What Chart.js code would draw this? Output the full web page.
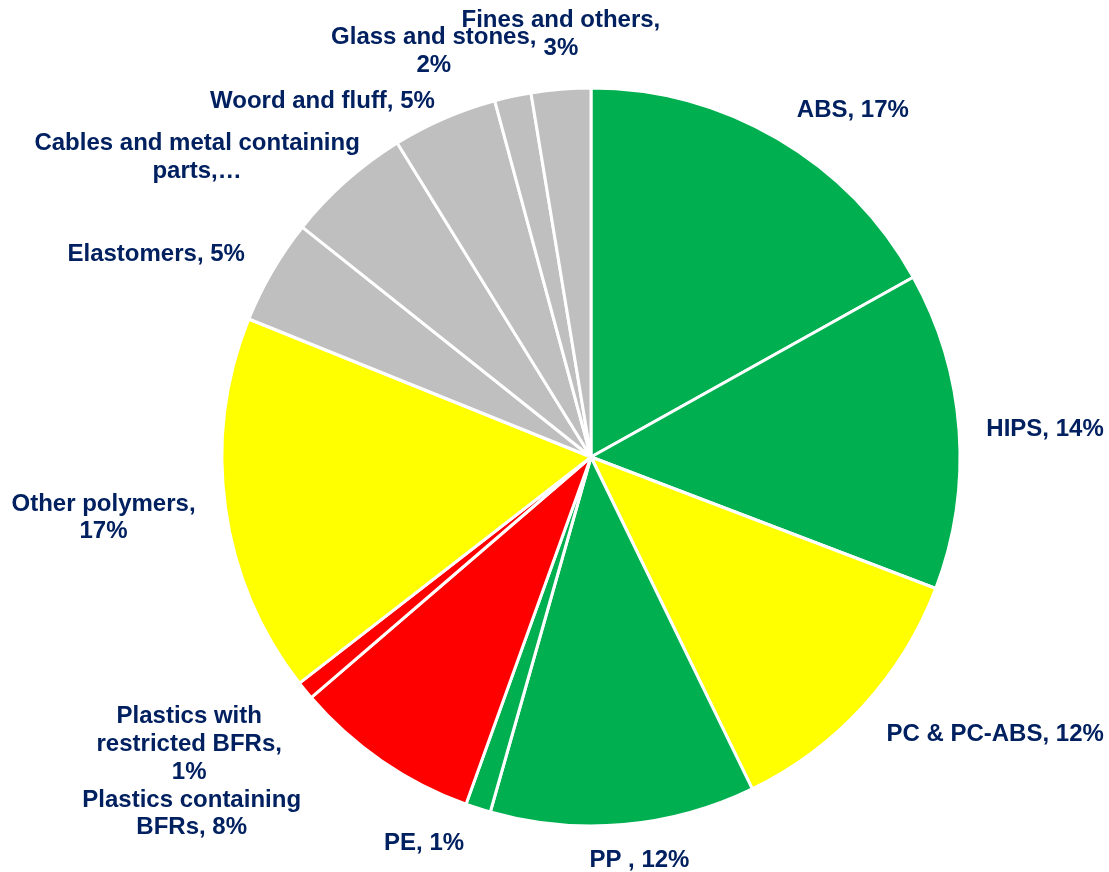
<!DOCTYPE html>
<html>
<head>
<meta charset="utf-8">
<script src="https://cdn.jsdelivr.net/npm/chart.js@4/dist/chart.umd.min.js"></script>
<style>
  html, body { margin: 0; padding: 0; background: #ffffff; }
  #wrap { width: 1109px; height: 872px; }
</style>
</head>
<body>
<div id="wrap"><canvas id="pie" width="1109" height="872"></canvas></div>
<script>
// Composition of the plastic-rich fraction, in percent
const categories = [
  'ABS', 'HIPS', 'PC & PC-ABS', 'PP ', 'PE',
  'Plastics containing BFRs', 'Plastics with restricted BFRs',
  'Other polymers', 'Elastomers', 'Cables and metal containing parts',
  'Woord and fluff', 'Glass and stones', 'Fines and others'
];
const shares = [16.9, 13.9, 12.0, 11.6, 1.1, 8.2, 0.8, 16.6, 4.6, 5.5, 4.6, 1.6, 2.6];

// Label text per slice; {p} is replaced by the slice's rounded percentage
const labelTemplates = [
  ['ABS, {p}'],
  ['HIPS, {p}'],
  ['PC & PC-ABS, {p}'],
  ['PP , {p}'],
  ['PE, {p}'],
  ['Plastics containing', 'BFRs, {p}'],
  ['Plastics with', 'restricted BFRs,', '{p}'],
  ['Other polymers,', '{p}'],
  ['Elastomers, {p}'],
  ['Cables and metal containing', 'parts,…'],
  ['Woord and fluff, {p}'],
  ['Glass and stones,', '{p}'],
  ['Fines and others,', '{p}']
];

const GREEN = '#00b050', YELLOW = '#ffff00', RED = '#ff0000', GREY = '#bfbfbf';
const sliceColors = [GREEN, GREEN, YELLOW, GREEN, GREEN, RED, RED, YELLOW, GREY, GREY, GREY, GREY, GREY];

// Label placement: offset of the first baseline (text centred) from the arc's outer midpoint
const labelOffsets = [
  [75, -22], [86, 6], [132, 35], [16, 42], [-54, 42], [-190, 46], [-116, 33],
  [-122, 3], [-116, -10], [-149, -31], [-122, -10], [-79, -52], [0, -62]
];
const LINE_HEIGHT = 27.6;

const total = shares.reduce((a, b) => a + b, 0);
const labelLines = labelTemplates.map((lines, i) =>
  lines.map(s => s.replace('{p}', Math.round(shares[i] / total * 100) + '%')));

const outsideLabels = {
  id: 'outsideLabels',
  afterDatasetsDraw(chart) {
    const ctx = chart.ctx;
    const meta = chart.getDatasetMeta(0);
    ctx.save();
    ctx.font = 'bold 24px "Liberation Sans", Arial, sans-serif';
    ctx.fillStyle = '#002060';
    ctx.textAlign = 'center';
    ctx.textBaseline = 'alphabetic';
    meta.data.forEach((arc, i) => {
      const p = arc.getProps(['x', 'y', 'startAngle', 'endAngle', 'outerRadius'], true);
      const mid = (p.startAngle + p.endAngle) / 2;
      const ax = p.x + Math.cos(mid) * p.outerRadius + labelOffsets[i][0];
      const ay = p.y + Math.sin(mid) * p.outerRadius + labelOffsets[i][1];
      labelLines[i].forEach((line, k) => ctx.fillText(line, ax, ay + k * LINE_HEIGHT));
    });
    ctx.restore();
  }
};

new Chart(document.getElementById('pie'), {
  type: 'pie',
  data: {
    labels: categories,
    datasets: [{
      data: shares,
      backgroundColor: sliceColors,
      borderColor: '#ffffff',
      borderWidth: 3
    }]
  },
  options: {
    responsive: false,
    animation: false,
    radius: 369,
    layout: { padding: { top: 42, bottom: 0, left: 73, right: 0 } },
    plugins: {
      legend: { display: false },
      tooltip: { enabled: false }
    }
  },
  plugins: [outsideLabels]
});
</script>
</body>
</html>
